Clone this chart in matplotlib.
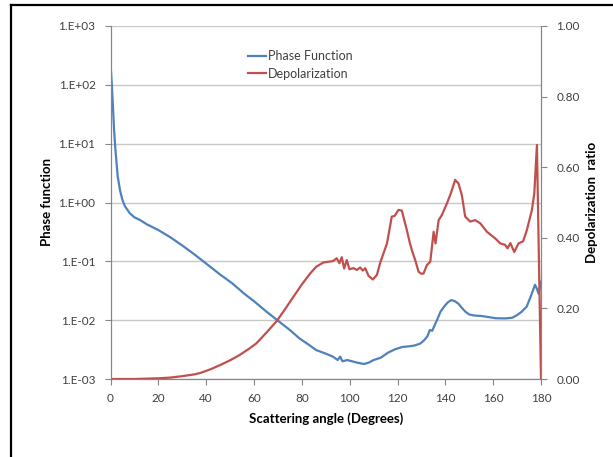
import matplotlib
matplotlib.use("Agg")
import matplotlib.pyplot as plt
from matplotlib.lines import Line2D
from matplotlib.ticker import FuncFormatter, FixedLocator, NullLocator
import numpy as np

# ---- data ----
phase_angle = [0, 0.5, 1, 1.5, 2, 3, 4, 5, 6, 8, 10, 12.5, 15, 20, 25, 30, 35, 37.5, 42, 46,
               51, 56, 60, 65, 70, 75, 79, 83, 86, 90, 93, 95, 96, 97, 99, 101, 103, 106,
               108, 110, 113, 116, 119, 122, 125, 127, 129.5, 131, 132.5, 133.5, 134.5,
               136.5, 138, 139.5, 141, 142.5, 144, 145.5, 147, 148.5, 150, 152, 155, 158,
               161, 165, 168, 170, 172, 174, 175.5, 176.5, 177.5, 178.3, 179, 180]
phase_value = [230, 110, 45, 17, 8.5, 2.8, 1.6, 1.1, 0.87, 0.66, 0.56, 0.5, 0.43, 0.34, 0.257,
               0.186, 0.132, 0.11, 0.079, 0.059, 0.042, 0.028, 0.021, 0.0142, 0.0098, 0.0068,
               0.0049, 0.0038, 0.0031, 0.0027, 0.0024, 0.0021, 0.0024, 0.0020, 0.0021,
               0.0020, 0.0019, 0.0018, 0.0019, 0.0021, 0.0023, 0.0028, 0.0032, 0.0035,
               0.0036, 0.0037, 0.0040, 0.0045, 0.0053, 0.0068, 0.0066, 0.010, 0.014,
               0.017, 0.020, 0.022, 0.021, 0.019, 0.016, 0.0138, 0.0125, 0.012, 0.0118,
               0.0113, 0.0108, 0.0107, 0.011, 0.0122, 0.014, 0.017, 0.024, 0.031, 0.040,
               0.034, 0.028, 0.045]

depol_angle = [0, 10, 15, 20, 25, 30, 35, 37.5, 42, 46, 50, 54, 58, 61, 65, 69.5, 73, 76.5,
               80, 83.5, 86, 89, 93, 94.6, 95.7, 96.7, 97.7, 98.8, 99.9, 101.6, 103, 104.4,
               105.5, 106.5, 107.9, 109.7, 111.4, 112.8, 115.6, 117.6, 118.8, 120.4, 121.8,
               123.9, 125, 126, 127.4, 128.8, 130, 130.9, 132.3, 133.7, 135.1, 135.9, 137.2,
               138.6, 140.7, 142.3, 144.1, 145.5, 146.9, 148.3, 150.4, 152.5, 154.6, 157.4,
               160.9, 163, 165, 166, 167.2, 168.8, 170.6, 172.5, 174.1, 176.2, 177.2, 178.3,
               180]
depol_value = [0.0, 0.0, 0.001, 0.002, 0.004, 0.008, 0.013, 0.017, 0.028, 0.040, 0.053,
               0.068, 0.086, 0.101, 0.130, 0.164, 0.198, 0.233, 0.268, 0.299, 0.318, 0.330,
               0.334, 0.342, 0.328, 0.345, 0.313, 0.337, 0.311, 0.314, 0.309, 0.316, 0.307,
               0.314, 0.292, 0.282, 0.295, 0.330, 0.384, 0.460, 0.462, 0.479, 0.477, 0.422,
               0.390, 0.365, 0.337, 0.304, 0.298, 0.299, 0.323, 0.332, 0.417, 0.384, 0.450,
               0.465, 0.498, 0.526, 0.564, 0.554, 0.521, 0.460, 0.446, 0.450, 0.441, 0.417,
               0.398, 0.384, 0.380, 0.370, 0.385, 0.360, 0.384, 0.390, 0.422, 0.479, 0.526,
               0.663, 0.0]

x_ticks = [0, 20, 40, 60, 80, 100, 120, 140, 160, 180]
left_ticks = [1e-3, 1e-2, 1e-1, 1e0, 1e1, 1e2, 1e3]
right_ticks = [0.0, 0.2, 0.4, 0.6, 0.8, 1.0]

BLUE = "#4F81BD"
RED = "#C0504D"
AXC = "#868686"
GRID = "#C8C8C8"
TXT = "#404040"

plt.rcParams['font.family'] = ['Lato', 'DejaVu Sans']

fig = plt.figure(figsize=(6.13, 4.57), dpi=100)
ax = fig.add_axes([110.5/613, 1-379/457, (541-110.5)/613, (379-26)/457])
ax2 = ax.twinx()

l1, = ax.plot(phase_angle, phase_value, color=BLUE, lw=1.6, label="Phase Function")
l2, = ax2.plot(depol_angle, depol_value, color=RED, lw=1.6, label="Depolarization")

ax.set_yscale('log')
ax.set_ylim(1e-3, 1e3)
ax.set_xlim(0, 180)
ax2.set_ylim(0, 1.0)

ax.xaxis.set_major_locator(FixedLocator(x_ticks))
ax.yaxis.set_major_locator(FixedLocator(left_ticks))
ax.yaxis.set_minor_locator(NullLocator())
ax.yaxis.set_major_formatter(FuncFormatter(lambda v, p: "1.E%+03d" % int(round(np.log10(v)))))
ax2.yaxis.set_major_locator(FixedLocator(right_ticks))
ax2.yaxis.set_major_formatter(FuncFormatter(lambda v, p: "%.2f" % v))

ax.grid(axis='y', color=GRID, lw=1.0)
ax.set_axisbelow(True)

for a in (ax, ax2):
    a.spines['top'].set_visible(False)
    for s in ('left', 'right', 'bottom'):
        a.spines[s].set_color(AXC)
        a.spines[s].set_linewidth(0.8)
    a.tick_params(colors=AXC, labelcolor=TXT, labelsize=8.5, length=4, width=0.8)
ax.tick_params(axis='x', pad=6)
ax.tick_params(axis='y', pad=6.8)
ax2.tick_params(axis='y', pad=7.2)

ax.set_xlabel("Scattering angle (Degrees)", fontsize=9.5, fontweight='bold', color='black', labelpad=6)
ax.set_ylabel("Phase function", fontsize=9.5, fontweight='bold', color='black', labelpad=4)
ax2.set_ylabel("Depolarization  ratio", fontsize=9.5, fontweight='bold', color='black', labelpad=4.5)

leg = ax2.legend(handles=[l1, l2], loc='upper left', bbox_to_anchor=(248/613, 1-50/457),
                 bbox_transform=fig.transFigure, frameon=False, fontsize=9,
                 handlelength=1.45, handletextpad=0.15, labelspacing=0.45, borderaxespad=0,
                 borderpad=0)
for t in leg.get_texts():
    t.set_color(TXT)

# outer frame (left and top edges visible)
fig.add_artist(Line2D([11/613, 11/613], [0, 1-5/457], transform=fig.transFigure, color='black', lw=1.6))
fig.add_artist(Line2D([11/613, 1], [1-5/457, 1-5/457], transform=fig.transFigure, color='black', lw=1.6))

fig.savefig("out.png", dpi=100)
